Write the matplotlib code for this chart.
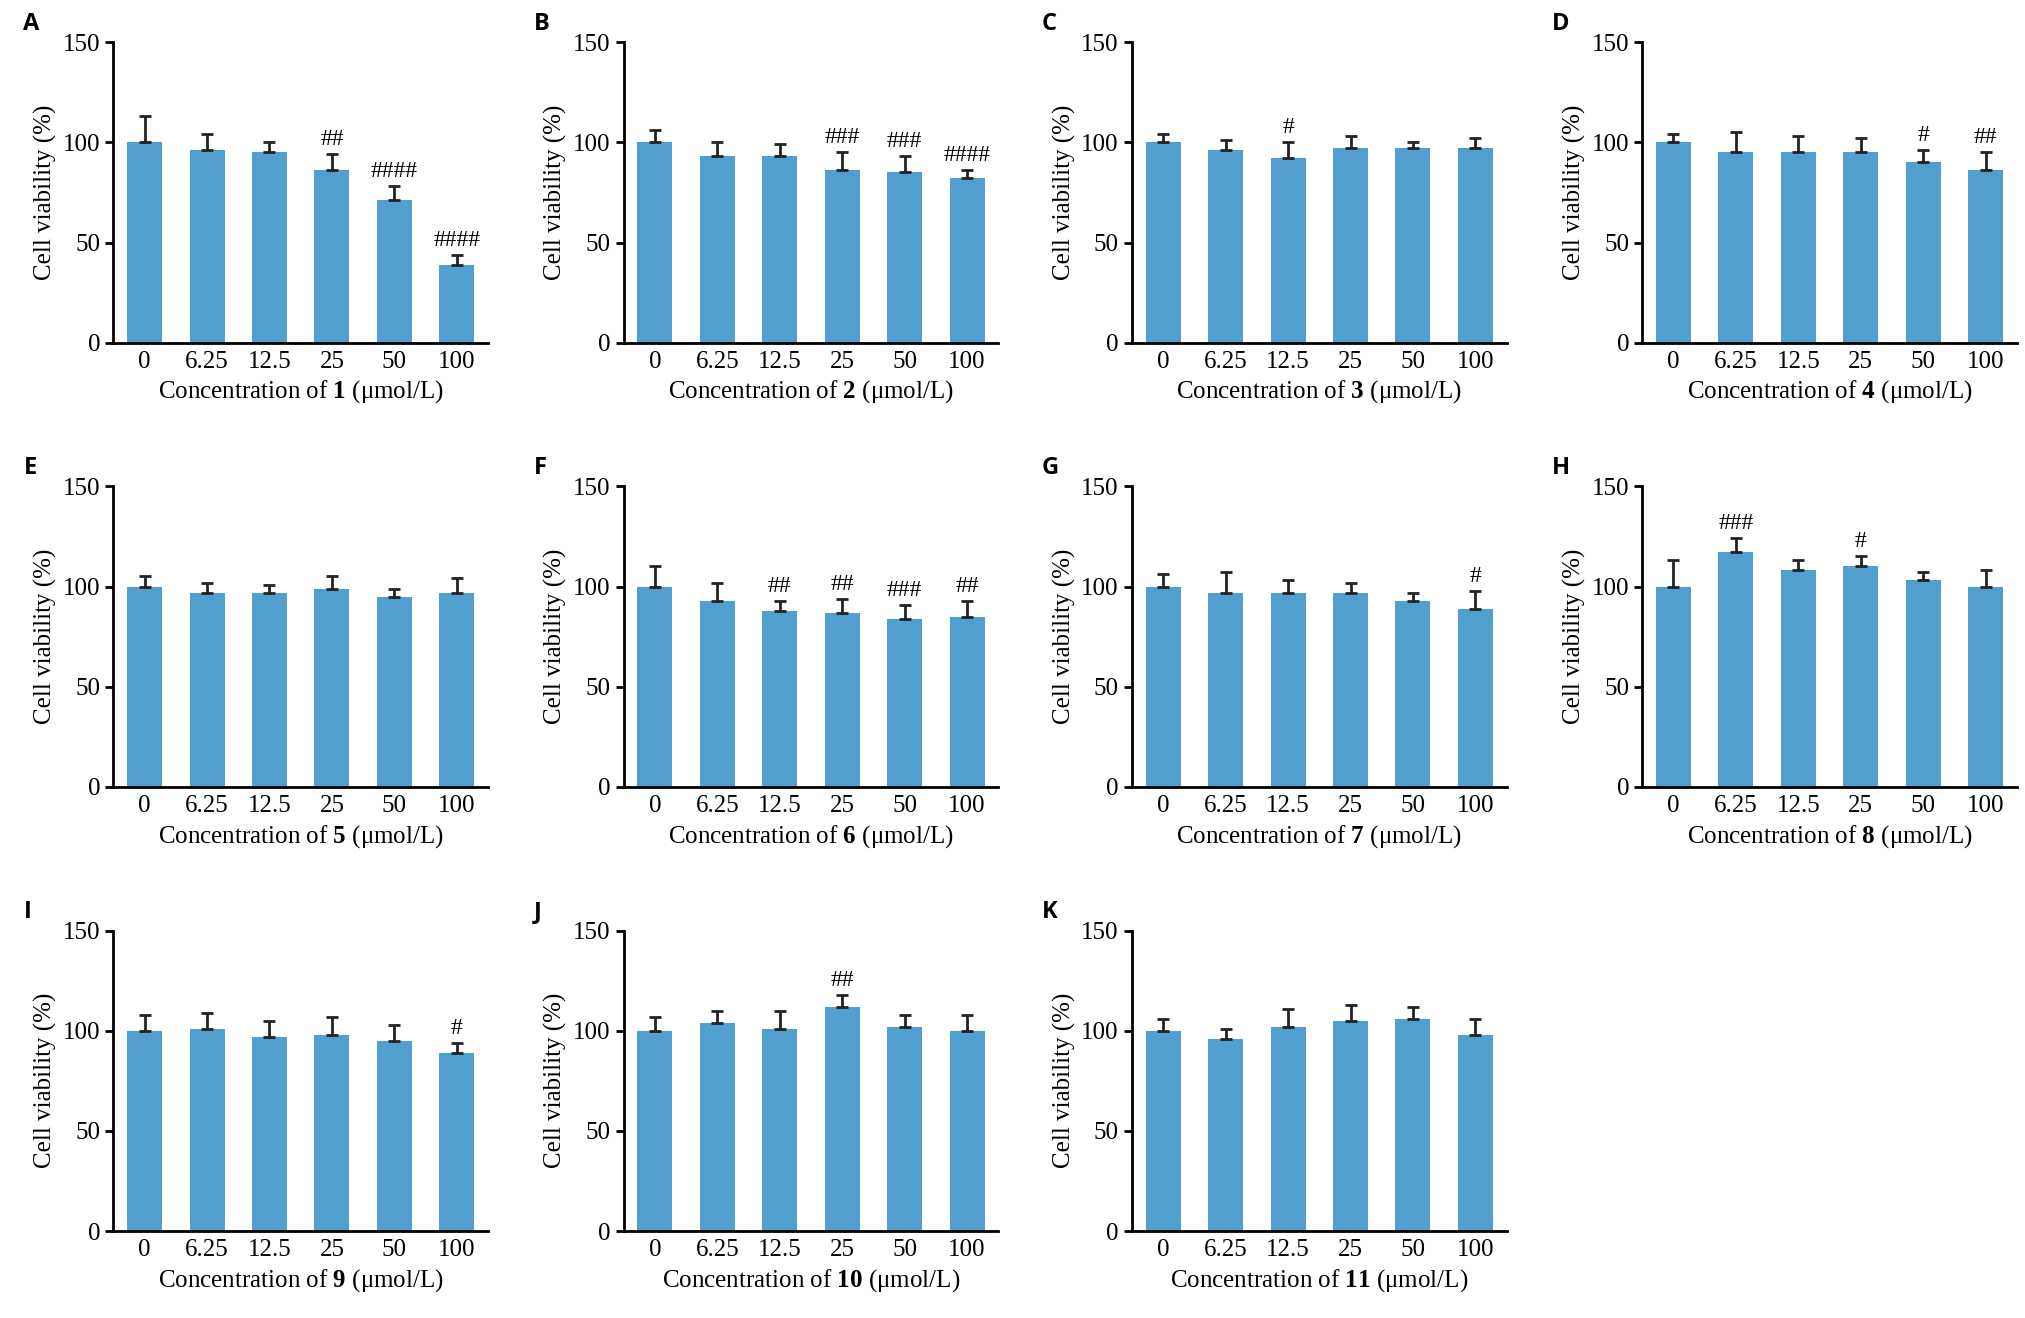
import matplotlib
matplotlib.use("Agg")
import matplotlib.pyplot as plt

plt.rcParams['font.family'] = ['Liberation Serif', 'DejaVu Serif']
plt.rcParams['mathtext.fontset'] = 'custom'
plt.rcParams['mathtext.rm'] = 'Liberation Serif'
plt.rcParams['mathtext.bf'] = 'Liberation Serif:bold'

concs = ['0', '6.25', '12.5', '25', '50', '100']
panels = ['A', 'B', 'C', 'D', 'E', 'F', 'G', 'H', 'I', 'J', 'K']

means = [
    [100, 96, 95, 86, 71, 39],
    [100, 93, 93, 86, 85, 82],
    [100, 96, 92, 97, 97, 97],
    [100, 95, 95, 95, 90, 86],
    [100, 97, 97, 99, 95, 97],
    [100, 93, 88, 87, 84, 85],
    [100, 97, 97, 97, 93, 89],
    [100, 117, 108, 110, 103, 100],
    [100, 101, 97, 98, 95, 89],
    [100, 104, 101, 112, 102, 100],
    [100, 96, 102, 105, 106, 98],
]
errs = [
    [13, 8, 5, 8, 7, 5],
    [6, 7, 6, 9, 8, 4],
    [4, 5, 8, 6, 3, 5],
    [4, 10, 8, 7, 6, 9],
    [5, 5, 4, 6, 4, 7],
    [10, 9, 5, 7, 7, 8],
    [6, 10, 6, 5, 4, 9],
    [13, 7, 5, 5, 4, 8],
    [8, 8, 8, 9, 8, 5],
    [7, 6, 9, 6, 6, 8],
    [6, 5, 9, 8, 6, 8],
]
marks = [
    ['', '', '', '##', '####', '####'],
    ['', '', '', '###', '###', '####'],
    ['', '', '#', '', '', ''],
    ['', '', '', '', '#', '##'],
    ['', '', '', '', '', ''],
    ['', '', '##', '##', '###', '##'],
    ['', '', '', '', '', '#'],
    ['', '###', '', '#', '', ''],
    ['', '', '', '', '', '#'],
    ['', '', '', '##', '', ''],
    ['', '', '', '', '', ''],
]

lefts = [0.056, 0.308, 0.559, 0.811]
bottoms = [0.740, 0.403, 0.066]
w, h = 0.185, 0.228
color = '#519fcf'

fig = plt.figure(figsize=(20.25, 13.18), dpi=100)
for i, name in enumerate(panels):
    r, c = divmod(i, 4)
    ax = fig.add_axes([lefts[c], bottoms[r], w, h])
    x = range(len(concs))
    ax.bar(x, means[i], width=0.56, color=color)
    ax.errorbar(x, means[i], yerr=[[0] * 6, errs[i]], fmt='none',
                ecolor='#222222', elinewidth=2, capsize=4, capthick=2)
    for xi, m, e, t in zip(x, means[i], errs[i], marks[i]):
        if t:
            ax.text(xi, m + e + 2, t, ha='center', va='bottom', fontsize=17)
    ax.set_xlim(-0.5, 5.5)
    ax.set_ylim(0, 150)
    ax.set_yticks([0, 50, 100, 150])
    ax.set_xticks(list(x))
    ax.set_xticklabels(concs)
    ax.tick_params(axis='x', length=0, labelsize=18, pad=6)
    ax.tick_params(axis='y', length=6, width=2, labelsize=18)
    for s in ['top', 'right']:
        ax.spines[s].set_visible(False)
    for s in ['left', 'bottom']:
        ax.spines[s].set_linewidth(2)
    ax.set_ylabel('Cell viability (%)', fontsize=18)
    ax.set_xlabel('Concentration of $\\mathbf{%d}$ (μmol/L)' % (i + 1), fontsize=18)
    ax.text(-0.24, 1.02, name, transform=ax.transAxes, fontsize=17,
            fontweight='bold', family='Open Sans', va='bottom')

fig.savefig('out.png', dpi=100)
